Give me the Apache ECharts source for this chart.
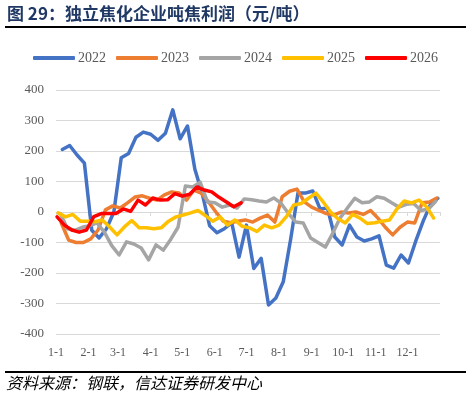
<!DOCTYPE html>
<html>
<head>
<meta charset="utf-8">
<script src="https://cdn.jsdelivr.net/npm/echarts@6/dist/echarts.min.js"></script>
<style>
html,body{margin:0;padding:0;background:#fff;}
#main{width:471px;height:399px;}
</style>
</head>
<body>
<div id="main"></div>
<script>
// 独立焦化企业吨焦利润（元/吨），周度数据
let years = ['2022', '2023', '2024', '2025', '2026'];
// 每年第一期数据的日序（1月1日为0）
let firstDay = [6, 5, 4, 2, 1];

let d2022 = [205, 218, 187, 160, -60, -85, -55, 0, 178, 192, 245, 262, 255, 235, 258, 335, 240, 282, 140, 60,
    -45, -68, -55, -35, -148, -43, -185, -152, -305, -282, -229, -90, 62, 62, 69, 10, 13, -82, -108, -43,
    -82, -95, -88, -78, -174, -184, -141, -167, -95, -30, 25, 45];
let d2023 = [-36, -92, -100, -100, -88, -59, 7, 20, 13, 30, 49, 53, 45, 39, 56, 66, 62, 39, 72, 62,
    33, 0, -30, -35, -30, -26, -33, -20, -10, -33, 50, 68, 75, 33, 16, 5, -5, -10, 0, -3,
    0, -8, 5, -20, -50, -75, -50, -33, -36, 30, 33, 46];
let d2024 = [-5, -55, -60, -50, -45, -36, -66, -110, -141, -98, -105, -118, -157, -108, -125, -90, -50, 85, 82, 98,
    33, 30, 16, 23, 13, 43, 40, 36, 33, 46, 28, -5, -33, -36, -85, -100, -115, -70, -20, 13,
    45, 30, 33, 50, 45, 30, 16, 25, 28, 5, 10, 35];
let d2025 = [-3, -16, -8, -30, -30, -32, -26, -49, -75, -49, -28, -52, -52, -55, -52, -30, -16, -10, -3, 5,
    -12, -30, -16, -43, -26, -47, -52, -64, -43, -52, -43, -15, 23, 28, 45, 62, 33, 0, -22, -36,
    -8, -20, -38, -35, -30, -26, 10, 36, 30, 39, 18, -20];
let d2026 = [-16, -43, -59, -66, -59, -15, -5, -5, -5, 10, 2, 39, 23, 46, 39, 40, 60, 52, 58, 82,
    72, 66, 48, 33, 17, 30];

let monthStart = [0, 31, 59, 90, 120, 151, 181, 212, 243, 273, 304, 334];
let monthLabels = ['1-1', '2-1', '3-1', '4-1', '5-1', '6-1', '7-1', '8-1', '9-1', '10-1', '11-1', '12-1'];

let colors = ['#4472C4', '#ED7D31', '#A5A5A5', '#FFC000', '#FF0000'];
let allData = [d2022, d2023, d2024, d2025, d2026];

function weekly(vals, start) {
    return vals.map(function (v, i) { return [start + 7 * i, v]; });
}

let serifFont = '"Times New Roman", "Liberation Serif", serif';

var myChart = echarts.init(document.getElementById('main'));

let option = {
    color: colors,
    animation: false,
    legend: {
        left: 'center',
        top: 46,
        itemWidth: 42,
        itemHeight: 4,
        itemGap: 10,
        icon: 'roundRect',
        textStyle: {
            color: '#595959',
            fontFamily: serifFont,
            fontSize: 14,
            padding: [0, 0, 0, -2]
        },
        data: years
    },
    grid: {
        left: 56,
        right: 31,
        top: 90,
        bottom: 65,
        containLabel: false
    },
    xAxis: [{
        type: 'value',
        min: 0,
        max: 365,
        position: 'bottom',
        axisLine: { show: false, onZero: false },
        axisTick: { show: false },
        splitLine: { show: false },
        axisLabel: {
            customValues: monthStart,
            color: '#595959',
            fontFamily: serifFont,
            fontSize: 12,
            margin: 13,
            formatter: function (v) {
                return monthLabels[monthStart.indexOf(v)];
            }
        }
    }, {
        // 零轴及月度刻度
        type: 'value',
        min: 0,
        max: 365,
        position: 'bottom',
        axisLine: { show: true, onZero: true, lineStyle: { color: '#D9D9D9', width: 1 } },
        axisTick: {
            show: true,
            customValues: monthStart.concat([365]),
            length: 4,
            lineStyle: { color: '#D9D9D9' }
        },
        axisLabel: { show: false },
        splitLine: { show: false }
    }],
    yAxis: {
        type: 'value',
        min: -400,
        max: 400,
        interval: 100,
        axisLine: { show: false },
        axisTick: { show: false },
        axisLabel: {
            color: '#595959',
            fontFamily: serifFont,
            fontSize: 13,
            margin: 12
        },
        splitLine: {
            show: true,
            lineStyle: { color: '#D9D9D9', width: 1 }
        }
    },
    series: years.map(function (y, k) {
        return {
            name: y,
            type: 'line',
            xAxisIndex: 0,
            symbol: 'none',
            smooth: false,
            lineStyle: { width: 3.5, cap: 'round', join: 'round' },
            data: weekly(allData[k], firstDay[k])
        };
    }),
    graphic: [{
        type: 'text',
        left: 7,
        top: 5,
        style: {
            text: '图 29：独立焦化企业吨焦利润（元/吨）',
            fill: '#1F3864',
            font: 'bold 17px "Noto Sans CJK SC", sans-serif',
            letterSpacing: 1
        }
    }, {
        type: 'line',
        shape: { x1: 5, y1: 27, x2: 466, y2: 27 },
        style: { stroke: '#000', lineWidth: 2 }
    }, {
        type: 'line',
        shape: { x1: 5, y1: 372, x2: 466, y2: 372 },
        style: { stroke: '#000', lineWidth: 2 }
    }, {
        type: 'text',
        left: 6,
        top: 375,
        style: {
            text: '资料来源：钢联，信达证券研发中心',
            fill: '#000',
            font: 'italic 16px "Noto Sans CJK SC", sans-serif'
        }
    }]
};

myChart.setOption(option);
</script>
</body>
</html>
